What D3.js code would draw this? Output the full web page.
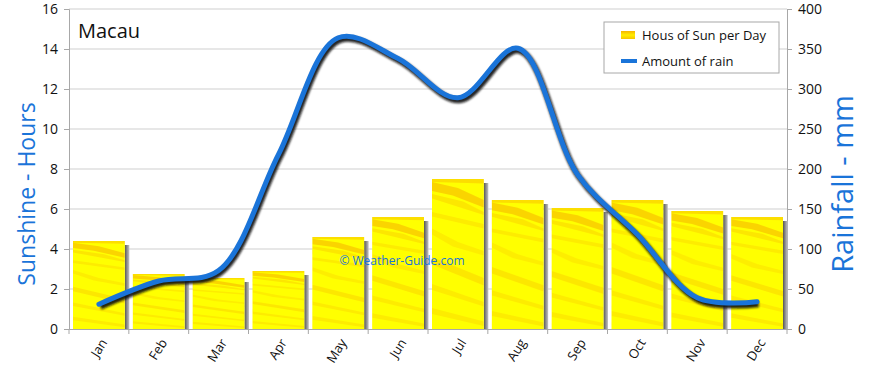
<!DOCTYPE html>
<html>
<head>
<meta charset="utf-8">
<script src="https://cdn.jsdelivr.net/npm/d3@7"></script>
<style>
  body { margin: 0; background: #fff; }
  svg { display: block; }
</style>
</head>
<body>
<script>
// data
const months = ["Jan", "Feb", "Mar", "Apr", "May", "Jun", "Jul", "Aug", "Sep", "Oct", "Nov", "Dec"];
const sunHours = [4.4, 2.75, 2.55, 2.9, 4.6, 5.6, 7.5, 6.45, 6.05, 6.45, 5.9, 5.6];
const rainMm = [31, 60, 73, 218, 364, 338, 289, 351, 193, 118, 39, 34];
const sunTicks = [0, 2, 4, 6, 8, 10, 12, 14, 16];
const rainTicks = [0, 50, 100, 150, 200, 250, 300, 350, 400];

const width = 870, height = 368;
const plotL = 69, plotR = 787, plotT = 9, plotB = 329;
const blue = "#1a74d9";
const font = "'Open Sans', sans-serif";

const x = d3.scaleBand().domain(months).range([plotL, plotR]);
const ySun = d3.scaleLinear().domain([0, 16]).range([plotB, plotT]);
const yRain = d3.scaleLinear().domain([0, 400]).range([plotB, plotT]);

const svg = d3.select("body").append("svg")
    .attr("width", width)
    .attr("height", height)
    .style("font-family", font);

const defs = svg.append("defs");

// yellow fill with orange streaks, stretched per bar
const pat = defs.append("pattern")
    .attr("id", "sun")
    .attr("patternUnits", "objectBoundingBox")
    .attr("patternContentUnits", "objectBoundingBox")
    .attr("width", 1).attr("height", 1);
pat.append("rect").attr("width", 1).attr("height", 1).attr("fill", "#ffff00");
const streaks = [
  ["0,0 1,0 1,0.03 0,0.02", 0.35],
  ["0,0.02 0.5,0.06 1,0.14 1,0.19 0.4,0.11 0,0.08", 0.45],
  ["0,0.10 0.6,0.15 1,0.22 1,0.24 0,0.13", 0.25],
  ["0,0.22 1,0.30 1,0.33 0,0.25", 0.2],
  ["0,0.33 0.5,0.42 1,0.48 1,0.51 0.4,0.45 0,0.37", 0.18],
  ["0,0.52 1,0.66 1,0.71 0,0.57", 0.25],
  ["0,0.70 1,0.82 1,0.85 0,0.74", 0.2],
  ["0,0.86 1,0.95 1,0.98 0,0.90", 0.2]
];
pat.selectAll("polygon")
  .data(streaks)
  .enter().append("polygon")
    .attr("points", d => d[0])
    .attr("fill", "#f5a000")
    .attr("fill-opacity", d => d[1]);

const shade = defs.append("linearGradient").attr("id", "shade");
shade.append("stop").attr("offset", "0%").attr("stop-color", "#555");
shade.append("stop").attr("offset", "100%").attr("stop-color", "#c4c4c4");

const legendSwatch = defs.append("linearGradient").attr("id", "swatch")
    .attr("x1", 0).attr("x2", 0).attr("y1", 0).attr("y2", 1);
legendSwatch.append("stop").attr("offset", "0%").attr("stop-color", "#f7b400");
legendSwatch.append("stop").attr("offset", "50%").attr("stop-color", "#ffee00");
legendSwatch.append("stop").attr("offset", "100%").attr("stop-color", "#f7c400");

const blur = defs.append("filter").attr("id", "blur")
    .attr("x", "-5%").attr("y", "-5%").attr("width", "110%").attr("height", "110%");
blur.append("feGaussianBlur").attr("stdDeviation", 1.3);

// gridlines
svg.append("g")
  .selectAll("line")
  .data(sunTicks.slice(1))
  .enter().append("line")
    .attr("x1", plotL).attr("x2", plotR)
    .attr("y1", d => ySun(d)).attr("y2", d => ySun(d))
    .attr("stroke", "#cfcfcf");

// axes
const yLeft = svg.append("g")
    .attr("transform", `translate(${plotL},0)`)
    .call(d3.axisLeft(ySun).tickValues(sunTicks).tickSize(5).tickPadding(6));
const yRight = svg.append("g")
    .attr("transform", `translate(${plotR},0)`)
    .call(d3.axisRight(yRain).tickValues(rainTicks).tickSize(5).tickPadding(6));
const xAxis = svg.append("g")
    .attr("transform", `translate(0,${plotB})`)
    .call(d3.axisBottom(x).tickSize(0).tickFormat(""));

[yLeft, yRight, xAxis].forEach(g => {
  g.select(".domain").attr("stroke", "#a8a8a8");
  g.selectAll(".tick line").attr("stroke", "#a8a8a8");
  g.selectAll("text").attr("fill", "#111").style("font-size", "14px").style("font-family", font);
});

// band boundary ticks on the bottom axis
xAxis.selectAll(".bound")
  .data(months.concat(["end"]))
  .enter().append("line")
    .attr("x1", (d, i) => plotL + i * x.bandwidth())
    .attr("x2", (d, i) => plotL + i * x.bandwidth())
    .attr("y1", 0).attr("y2", 5)
    .attr("stroke", "#a8a8a8");

// month labels
svg.append("g")
  .selectAll("text")
  .data(months)
  .enter().append("text")
    .attr("transform", d => `translate(${x(d) + x.bandwidth() / 2 + 5},${plotB + 11}) rotate(-58)`)
    .attr("text-anchor", "end")
    .attr("dy", "0.35em")
    .style("font-size", "13px")
    .attr("fill", "#111")
    .text(d => d);

// bars
const bw = x.bandwidth() - 8;
const bar = svg.append("g")
  .selectAll("g")
  .data(months.map((m, i) => ({ m, v: sunHours[i] })))
  .enter().append("g");

bar.append("rect")
    .attr("x", d => x(d.m) + 4 + bw)
    .attr("y", d => ySun(d.v) + 4)
    .attr("width", 4.5)
    .attr("height", d => plotB - ySun(d.v) - 4)
    .attr("fill", "url(#shade)");

bar.append("rect")
    .attr("x", d => x(d.m) + 4)
    .attr("y", d => ySun(d.v))
    .attr("width", bw)
    .attr("height", d => plotB - ySun(d.v))
    .attr("fill", "url(#sun)");

// watermark
svg.append("text")
    .attr("x", 402).attr("y", 265)
    .attr("text-anchor", "middle")
    .attr("fill", blue)
    .style("font-size", "12px")
    .text("©  Weather-Guide.com");

// rain line
const line = d3.line()
    .x((d, i) => x(months[i]) + x.bandwidth() / 2)
    .y(d => yRain(d))
    .curve(d3.curveCatmullRom.alpha(0.5));

svg.append("path")
    .attr("d", line(rainMm))
    .attr("transform", "translate(1.5,2.5)")
    .attr("fill", "none")
    .attr("stroke", "#111")
    .attr("stroke-opacity", 0.9)
    .attr("stroke-width", 6)
    .attr("filter", "url(#blur)");

svg.append("path")
    .attr("d", line(rainMm))
    .attr("fill", "none")
    .attr("stroke", blue)
    .attr("stroke-width", 5)
    .attr("stroke-linecap", "round");

// title
svg.append("text")
    .attr("x", 78).attr("y", 38)
    .style("font-size", "20px")
    .attr("fill", "#111")
    .text("Macau");

// axis titles
svg.append("text")
    .attr("transform", "translate(35,194) rotate(-90)")
    .attr("text-anchor", "middle")
    .attr("fill", blue)
    .style("font-size", "23px")
    .text("Sunshine - Hours");

svg.append("text")
    .attr("transform", "translate(853,184) rotate(-90)")
    .attr("text-anchor", "middle")
    .attr("fill", blue)
    .style("font-size", "29px")
    .text("Rainfall - mm");

// legend
const legend = svg.append("g").attr("transform", "translate(604,22)");
legend.append("rect")
    .attr("width", 175).attr("height", 51)
    .attr("fill", "#fff").attr("stroke", "#a8a8a8");
legend.append("rect")
    .attr("x", 17).attr("y", 9).attr("width", 14).attr("height", 8)
    .attr("fill", "url(#swatch)");
legend.append("line")
    .attr("x1", 17).attr("x2", 33).attr("y1", 39).attr("y2", 39)
    .attr("stroke", blue).attr("stroke-width", 4);
legend.selectAll(".lab")
  .data(["Hous of Sun per Day", "Amount of rain"])
  .enter().append("text")
    .attr("x", 38).attr("y", (d, i) => 18 + i * 26)
    .style("font-size", "13px")
    .attr("fill", "#111")
    .text(d => d);
</script>
</body>
</html>
